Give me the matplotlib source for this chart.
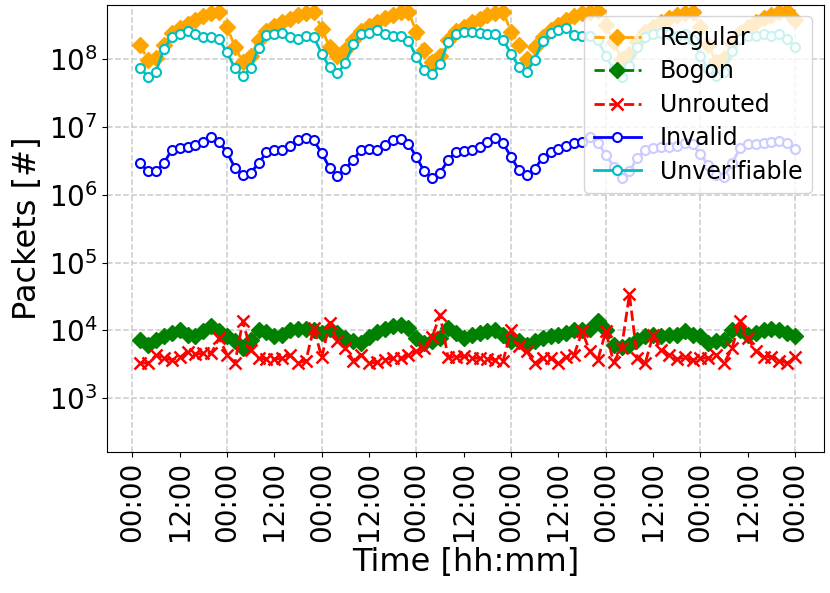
import numpy as np
import matplotlib
matplotlib.use("Agg")
import matplotlib.pyplot as plt
from matplotlib.ticker import FixedLocator, FixedFormatter, NullLocator

# sample times in hours (every 2 h over one week)
hours = np.arange(2, 170, 2)

regular = [1.6e8, 9.5e7, 1.05e8, 1.6e8, 2.4e8, 2.9e8, 3.3e8, 3.8e8, 4.3e8, 4.8e8, 5.0e8, 3.0e8,
           1.5e8, 9.0e7, 1.1e8, 1.9e8, 2.6e8, 3.1e8, 3.5e8, 3.9e8, 4.4e8, 4.8e8, 5.0e8, 2.8e8,
           1.5e8, 1.1e8, 1.35e8, 1.9e8, 2.6e8, 3.1e8, 3.5e8, 4.0e8, 4.5e8, 4.9e8, 5.0e8, 2.5e8,
           1.35e8, 9.0e7, 1.1e8, 1.9e8, 2.6e8, 3.0e8, 3.5e8, 3.9e8, 4.4e8, 4.8e8, 5.0e8, 2.5e8,
           1.6e8, 1.0e8, 1.5e8, 2.1e8, 2.7e8, 3.2e8, 3.8e8, 4.3e8, 4.7e8, 5.0e8, 5.1e8, 3.2e8,
           1.8e8, 1.0e8, 1.2e8, 1.8e8, 2.5e8, 3.0e8, 3.5e8, 4.0e8, 4.4e8, 4.8e8, 5.0e8, 3.0e8,
           1.6e8, 9.0e7, 1.05e8, 1.7e8, 2.4e8, 3.0e8, 3.5e8, 4.0e8, 4.5e8, 4.9e8, 5.1e8, 3.8e8]

bogon = [7.3e3, 6.2e3, 7.3e3, 8.2e3, 9.1e3, 1.0e4, 8.6e3, 8.2e3, 9.7e3, 1.15e4, 9.7e3, 8.2e3,
         7.0e3, 5.5e3, 7.3e3, 1.0e4, 9.4e3, 8.2e3, 8.6e3, 1.0e4, 1.05e4, 1.05e4, 1.0e4, 9.1e3,
         1.05e4, 9.1e3, 7.7e3, 6.9e3, 6.6e3, 8.0e3, 9.4e3, 1.05e4, 1.15e4, 1.2e4, 1.1e4, 7.7e3,
         6.6e3, 6.9e3, 7.7e3, 1.08e4, 9.1e3, 7.7e3, 8.6e3, 9.1e3, 9.7e3, 1.0e4, 8.6e3, 6.9e3,
         6.9e3, 6.2e3, 6.9e3, 7.7e3, 8.2e3, 8.6e3, 9.1e3, 1.0e4, 1.0e4, 1.05e4, 1.36e4, 1.0e4,
         6.2e3, 5.8e3, 6.2e3, 7.3e3, 8.2e3, 8.6e3, 8.2e3, 8.6e3, 8.6e3, 9.7e3, 8.6e3, 8.2e3,
         6.5e3, 6.9e3, 7.3e3, 1.0e4, 1.0e4, 8.6e3, 9.1e3, 1.0e4, 1.05e4, 1.0e4, 9.1e3, 8.2e3]

unrouted = [3.3e3, 3.3e3, 4.3e3, 3.9e3, 3.7e3, 4.0e3, 4.8e3, 4.5e3, 4.6e3, 4.6e3, 7.7e3, 4.4e3,
            3.3e3, 1.36e4, 5.2e3, 3.9e3, 3.8e3, 3.8e3, 3.9e3, 4.3e3, 3.3e3, 3.6e3, 1.1e4, 4.0e3,
            1.3e4, 7.0e3, 5.5e3, 3.6e3, 4.4e3, 3.3e3, 3.4e3, 3.7e3, 3.9e3, 3.9e3, 4.4e3, 4.9e3,
            5.5e3, 8.0e3, 1.7e4, 4.1e3, 4.0e3, 4.2e3, 3.9e3, 3.9e3, 3.8e3, 3.7e3, 3.6e3, 1.0e4,
            6.0e3, 4.9e3, 3.3e3, 3.9e3, 3.9e3, 3.3e3, 4.0e3, 4.4e3, 9.7e3, 4.9e3, 3.7e3, 9.7e3,
            3.4e3, 5.5e3, 3.4e4, 3.9e3, 3.3e3, 8.6e3, 5.2e3, 4.4e3, 3.8e3, 4.0e3, 3.7e3, 3.9e3,
            3.9e3, 4.4e3, 3.3e3, 5.5e3, 1.36e4, 7.8e3, 5.0e3, 4.1e3, 4.1e3, 3.6e3, 3.3e3, 4.1e3]

invalid = [2.9e6, 2.2e6, 2.2e6, 2.9e6, 4.6e6, 4.8e6, 5.1e6, 5.4e6, 5.9e6, 7.2e6, 6.0e6, 4.2e6,
           2.5e6, 1.94e6, 2.1e6, 2.9e6, 4.2e6, 4.5e6, 4.6e6, 5.2e6, 6.4e6, 6.9e6, 6.3e6, 4.1e6,
           2.5e6, 1.9e6, 2.4e6, 3.3e6, 4.6e6, 4.7e6, 4.6e6, 5.4e6, 6.3e6, 6.6e6, 5.6e6, 3.6e6,
           2.2e6, 1.74e6, 2.1e6, 3.2e6, 4.3e6, 4.4e6, 4.6e6, 5.1e6, 6.0e6, 6.9e6, 5.7e6, 3.6e6,
           2.3e6, 1.94e6, 2.4e6, 3.5e6, 4.3e6, 4.7e6, 5.2e6, 5.8e6, 5.9e6, 7.0e6, 5.8e6, 3.9e6,
           2.6e6, 1.75e6, 2.2e6, 3.5e6, 4.6e6, 4.9e6, 5.0e6, 5.0e6, 5.3e6, 5.8e6, 5.5e6, 4.0e6,
           2.7e6, 1.95e6, 1.85e6, 2.9e6, 4.8e6, 5.5e6, 5.6e6, 5.7e6, 5.9e6, 6.1e6, 5.8e6, 4.7e6]

unverifiable = [7.3e7, 5.5e7, 6.5e7, 1.4e8, 2.1e8, 2.3e8, 2.6e8, 2.3e8, 2.1e8, 2.1e8, 1.95e8, 1.25e8,
                7.3e7, 5.6e7, 7.3e7, 1.45e8, 2.25e8, 2.3e8, 2.4e8, 2.1e8, 2.0e8, 2.2e8, 2.1e8, 1.2e8,
                7.5e7, 6.2e7, 8.6e7, 1.65e8, 2.3e8, 2.4e8, 2.7e8, 2.3e8, 2.2e8, 2.2e8, 1.85e8, 1.08e8,
                6.9e7, 6.0e7, 8.4e7, 1.75e8, 2.3e8, 2.5e8, 2.5e8, 2.4e8, 2.3e8, 2.3e8, 1.9e8, 1.2e8,
                7.7e7, 6.5e7, 9.7e7, 1.85e8, 2.4e8, 2.7e8, 2.9e8, 2.25e8, 2.2e8, 2.2e8, 1.9e8, 1.1e8,
                7.0e7, 5.5e7, 8.0e7, 1.5e8, 2.1e8, 2.3e8, 2.4e8, 2.3e8, 2.2e8, 2.3e8, 1.9e8, 1.1e8,
                7.0e7, 5.7e7, 6.5e7, 1.3e8, 2.0e8, 2.2e8, 2.2e8, 2.3e8, 2.2e8, 2.3e8, 2.0e8, 1.5e8]

day_ticks = np.arange(0, 169, 24)
half_ticks = np.arange(12, 169, 24)

fig = plt.figure(figsize=(8.3, 5.93), dpi=100)
ax = fig.add_axes([0.1293, 0.2383, 0.8629, 0.7538])

ax.plot(hours, regular, '--', color='orange', marker='D', ms=8, lw=2, label='Regular')
ax.plot(hours, bogon, '--', color='green', marker='D', ms=8, lw=2, label='Bogon')
ax.plot(hours, unrouted, '--', color='red', marker='x', ms=8, mew=1.8, lw=2, label='Unrouted')
ax.plot(hours, invalid, '-', color='blue', marker='o', ms=6.5, mew=1.5, mfc='white', lw=2,
        label='Invalid')
ax.plot(hours, unverifiable, '-', color='c', marker='o', ms=6.5, mew=1.5, mfc='white', lw=2,
        label='Unverifiable')

ax.set_yscale('log')
ax.set_ylim(10 ** 2.214, 10 ** 8.80)
ax.set_xlim(-6.34, 175.2)
ax.yaxis.set_minor_locator(NullLocator())

ax.xaxis.set_major_locator(FixedLocator(day_ticks))
ax.xaxis.set_major_formatter(FixedFormatter(['00:00'] * len(day_ticks)))
ax.xaxis.set_minor_locator(FixedLocator(half_ticks))
ax.xaxis.set_minor_formatter(FixedFormatter(['12:00'] * len(half_ticks)))
ax.tick_params(axis='x', which='both', labelsize=20, labelrotation=90, length=3.5, width=0.8)
ax.tick_params(axis='y', labelsize=20)

ax.grid(True, which='major', linestyle='--', color='0.8', linewidth=1.1)
ax.set_xlabel('Time [hh:mm]', fontsize=23)
ax.set_ylabel('Packets [#]', fontsize=23)
ax.legend(loc='upper right', fontsize=17, labelspacing=0.4)

fig.savefig('out.png', dpi=100)
